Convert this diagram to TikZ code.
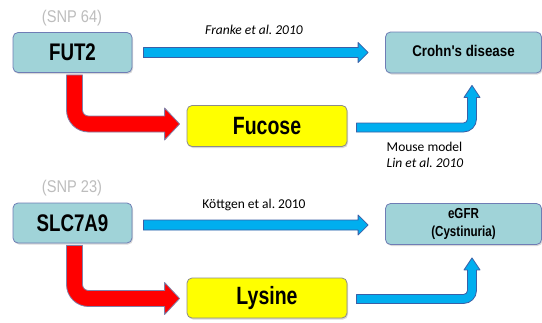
\documentclass[tikz,border=0pt]{standalone}
\usepackage{fontspec}
\setmainfont{Carlito}
\newfontfamily\narrowfont{Liberation Sans}[FakeStretch=0.78]
\newfontfamily\medfont{Liberation Sans}[FakeStretch=0.86]
\newfontfamily\egfrfont{Liberation Sans}[FakeStretch=0.8]
\usetikzlibrary{calc,shadows}
\definecolor{tealfill}{HTML}{A0D3D8}
\definecolor{boxedge}{HTML}{6F7DB5}
\definecolor{yellowfill}{HTML}{FFFF00}
\definecolor{yellowedge}{HTML}{8C8C8C}
\definecolor{bluefill}{HTML}{00AEEF}
\definecolor{blueedge}{HTML}{3B5FA6}
\definecolor{redfill}{HTML}{FF0000}
\definecolor{rededge}{HTML}{8080A8}
\definecolor{snpgray}{HTML}{BDBDBD}
\frenchspacing
\tikzset{
  boxshadow/.style={drop shadow={shadow xshift=1pt,shadow yshift=-1.5pt,opacity=0.3}},
  genebox/.style={rounded corners=5pt, draw=boxedge, fill=tealfill, line width=0.8pt,
    minimum width=119pt, minimum height=40pt, inner sep=0pt, boxshadow,
    font=\narrowfont\bfseries\fontsize{24}{28}\selectfont},
  diseasebox/.style={rounded corners=5pt, draw=boxedge, fill=tealfill, line width=0.8pt,
    minimum width=156pt, minimum height=41pt, inner sep=0pt, boxshadow, align=center},
  metabox/.style={rounded corners=5pt, draw=yellowedge, fill=yellowfill, line width=0.8pt,
    minimum width=160pt, minimum height=41pt, inner sep=0pt, boxshadow,
    font=\narrowfont\bfseries\fontsize{25}{29}\selectfont},
  snplabel/.style={text=snpgray, font=\medfont\fontsize{17}{20}\selectfont, inner sep=0pt},
  citelabel/.style={font=\fontsize{13.5}{16}\selectfont, inner sep=0pt},
  bluearrow/.style={fill=bluefill, draw=blueedge, line width=0.8pt, line join=round},
  redarrow/.style={fill=redfill, draw=rededge, line width=0.8pt, line join=round},
}
\newcommand\straightblue[2]{%
  \draw[bluearrow] let \p1=(#1), \p2=(#2) in
    (\x1,\y1+5pt) -- (\x2-10pt,\y1+5pt) -- (\x2-10pt,\y1+10pt) -- (\x2,\y1)
    -- (\x2-10pt,\y1-10pt) -- (\x2-10pt,\y1-5pt) -- (\x1,\y1-5pt) -- cycle;}
\newcommand\elbowblue[2]{%
  \draw[bluearrow] let \p1=(#1), \p2=(#2) in
    (\x1,\y1+4.5pt) -- (\x2-8.5pt,\y1+4.5pt) arc[start angle=270,end angle=360,radius=4pt]
    -- (\x2-4.5pt,\y2-12pt) -- (\x2-8pt,\y2-12pt) -- (\x2,\y2) -- (\x2+8pt,\y2-12pt)
    -- (\x2+4.5pt,\y2-12pt) -- (\x2+4.5pt,\y1+8.5pt) arc[start angle=0,end angle=-90,radius=13pt]
    -- (\x1,\y1-4.5pt) -- cycle;}
\newcommand\elbowred[2]{%
  \draw[redarrow] let \p1=(#1), \p2=(#2) in
    (\x1-8pt,\y1) -- (\x1-8pt,\y2+14pt) arc[start angle=180,end angle=270,radius=22pt]
    -- (\x2-15pt,\y2-8pt) -- (\x2-15pt,\y2-16pt) -- (\x2,\y2) -- (\x2-15pt,\y2+16pt)
    -- (\x2-15pt,\y2+8pt) -- (\x1+14pt,\y2+8pt) arc[start angle=270,end angle=180,radius=6pt]
    -- (\x1+8pt,\y1) -- cycle;}
\begin{document}
\begin{tikzpicture}[x=1pt,y=1pt]
\useasboundingbox (0,0) rectangle (542,-322);
\fill[white] (0,0) rectangle (542,-322);

% upper row
\node[snplabel] (snp64) at (72,-18) {(SNP 64)};
\node[genebox] (fut2) at (72.5,-52.5) {FUT2};
\node[diseasebox] (crohn) at (463.5,-52.5)
  {\raisebox{4pt}{\medfont\bfseries\fontsize{15.5}{18}\selectfont Crohn's disease}};
\node[metabox] (fucose) at (267,-126) {Fucose};
\node[citelabel] (franke) at (254,-30) {\itshape Franke et al. 2010};
\node[citelabel, align=left] (mouse) at (425,-154.5) {Mouse model\\\itshape Lin et al. 2010};

% lower row
\node[snplabel] (snp23) at (72,-188) {(SNP 23)};
\node[genebox] (slc) at (72.5,-223) {SLC7A9};
\node[diseasebox] (egfr) at (463.5,-224)
  {\raisebox{-5pt}{\egfrfont\bfseries\fontsize{14.5}{17.5}\selectfont\begin{tabular}{@{}c@{}}eGFR\\(Cystinuria)\end{tabular}}};
\node[metabox, minimum height=40pt] (lysine) at (267,-298) {Lysine};
\node[citelabel] (kottgen) at (254,-205) {Köttgen et al. 2010};

% arrows
\coordinate (fs) at ($(fut2.south)+(2,-2)$);
\coordinate (ft) at ($(fucose.west)+(-7,2)$);
\elbowred{fs}{ft}
\coordinate (ss) at ($(slc.south)+(2,-2)$);
\coordinate (st) at ($(lysine.west)+(-7,-0.5)$);
\elbowred{ss}{st}

\coordinate (a1) at ($(fut2.east)+(11,0)$);
\coordinate (b1) at ($(crohn.west)+(-17,0)$);
\straightblue{a1}{b1}
\coordinate (a2) at ($(slc.east)+(11,-2)$);
\coordinate (b2) at ($(egfr.west)+(-17,0)$);
\straightblue{a2}{b2}

\coordinate (c1) at ($(fucose.east)+(9,-1.5)$);
\coordinate (d1) at ($(crohn.south)+(8.5,-12)$);
\elbowblue{c1}{d1}
\coordinate (c2) at ($(lysine.east)+(9,-1)$);
\coordinate (d2) at ($(egfr.south)+(8.5,-13)$);
\elbowblue{c2}{d2}
\end{tikzpicture}
\end{document}
